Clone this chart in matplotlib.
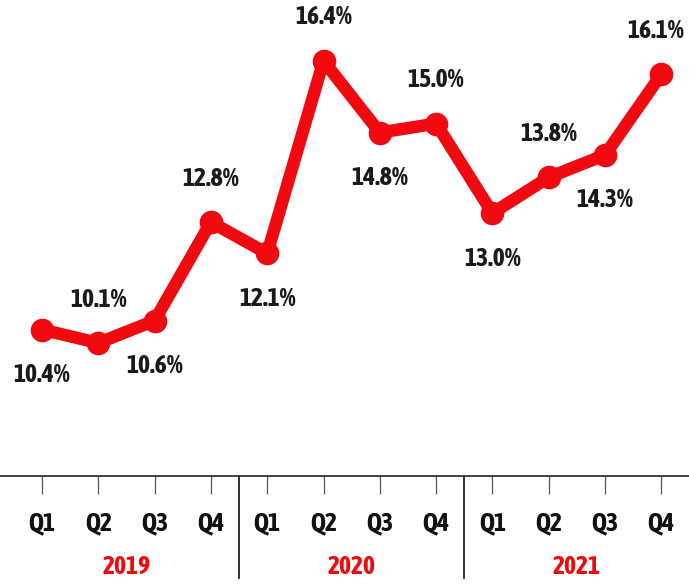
import matplotlib.pyplot as plt
from matplotlib.font_manager import fontManager, FontProperties

quarters = ["Q1", "Q2", "Q3", "Q4"] * 3
years = ["2019", "2020", "2021"]
values = [10.4, 10.1, 10.6, 12.8, 12.1, 16.4, 14.8, 15.0, 13.0, 13.8, 14.3, 16.1]
label_above = [False, True, False, True, False, True, False, True, False, True, False, True]


def wnum(w):
    if isinstance(w, int):
        return w
    return {"bold": 700, "semibold": 600, "demibold": 600, "heavy": 800,
            "black": 900, "extra bold": 800}.get(str(w).lower(), 400)


# a bold, narrow face looks closest to the original
cands = [f for f in fontManager.ttflist
         if (f.stretch in ("condensed", "semi-condensed", "extra-condensed")
             or "Condensed" in f.name or "Narrow" in f.name)
         and wnum(f.weight) >= 600 and f.style == "normal"]
cands.sort(key=lambda f: (abs(wnum(f.weight) - 700), f.name))
if cands:
    fp = FontProperties(fname=cands[0].fname, size=18.5)
else:
    fp = FontProperties(family="Roboto", weight="bold", size=16)

red = "#f0090f"
fig = plt.figure(figsize=(6.89, 5.84), dpi=100)
ax = fig.add_axes([0, 108 / 584, 1, 476 / 584])

x = list(range(len(values)))
ax.plot(x, values, color=red, lw=9, marker="o", ms=16, solid_joinstyle="round")

for i, v in enumerate(values):
    off = 44 if label_above[i] else -45
    dx = -6 if i == len(values) - 1 else 0
    ax.annotate(f"{v:.1f}%", (i, v), xytext=(dx * 0.72, off * 0.72), textcoords="offset points",
                ha="center", va="center", fontproperties=fp, color="#1a1a1a")

ax.set_xlim(-42 / 56.3, (689 - 42) / 56.3)
ax.set_ylim(7.13, 17.76)
for s in ["top", "left", "right"]:
    ax.spines[s].set_visible(False)
ax.spines["bottom"].set_color("#333333")
ax.spines["bottom"].set_linewidth(1.3)
ax.set_yticks([])
ax.set_xticks(x)
ax.set_xticklabels(quarters, color="#111111")
for t in ax.get_xticklabels():
    t.set_fontproperties(fp)
ax.tick_params(axis="x", length=13, width=0.9, color="#555555", pad=12)

for k in range(1, len(years)):
    ax.plot([4 * k - 0.5] * 2, [0, -102 / 476], transform=ax.get_xaxis_transform(),
            color="#222222", lw=1.3, clip_on=False)
for k, yr in enumerate(years):
    ax.text(4 * k + 1.5, -91 / 476, yr, transform=ax.get_xaxis_transform(),
            ha="center", va="center", fontproperties=fp, color=red)

fig.savefig("out.png", dpi=100)
